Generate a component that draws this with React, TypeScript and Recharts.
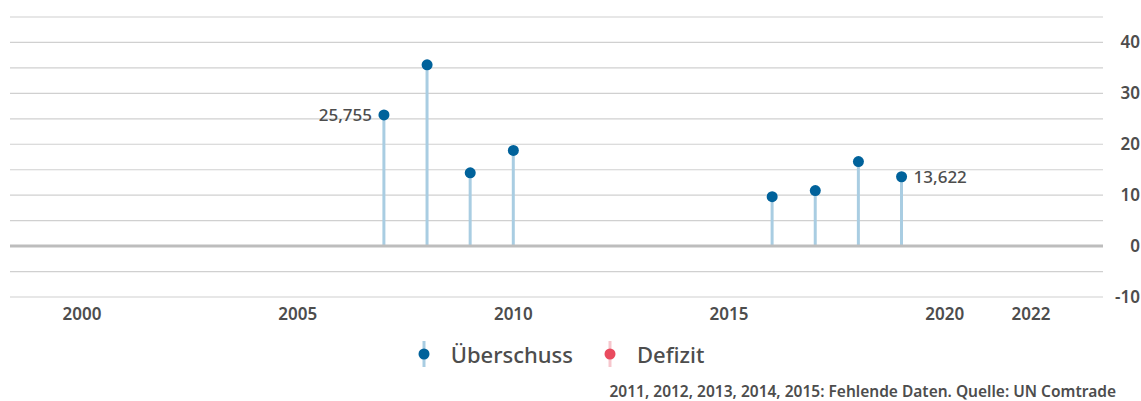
import { ComposedChart, Bar, Line, XAxis, YAxis, CartesianGrid, ReferenceLine, LabelList } from 'recharts'

const years = [2007, 2008, 2009, 2010, 2016, 2017, 2018, 2019]
const surplus = [25.755, 35.6, 14.4, 18.8, 9.7, 10.9, 16.6, 13.622]
const pointLabels = ['25,755', '', '', '', '', '', '', '13,622']
const labelSide = ['left', '', '', '', '', '', '', 'right']
const xTicks = [2000, 2005, 2010, 2015, 2020, 2022]
const yTicks = [-10, -5, 0, 5, 10, 15, 20, 25, 30, 35, 40, 45]
const legendItems = [
    { name: 'Überschuss', dot: '#00629b', stem: '#a9cde2' },
    { name: 'Defizit', dot: '#e94b5f', stem: '#f6c6cd' },
]
const footnote = '2011, 2012, 2013, 2014, 2015: Fehlende Daten. Quelle: UN Comtrade'

const data = years.map((year, i) => ({
    year,
    value: surplus[i],
    label: pointLabels[i],
    side: labelSide[i],
}))

const FONT = '"Noto Sans", sans-serif'
const TEXT = '#4d4d4d'

function YTick(props: any) {
    const { y, payload } = props
    if (payload.value % 10 !== 0) return null
    return (
        <text x={1140} y={y} dy={6} textAnchor="end" fontSize={17} fontWeight={600} fill={TEXT} fontFamily={FONT}>
            {payload.value}
        </text>
    )
}

function PointLabel(props: any) {
    const { x, y, index } = props
    const d = data[index]
    if (!d || !d.label) return null
    const left = d.side === 'left'
    return (
        <text x={left ? x - 12 : x + 12} y={y} dy={6} textAnchor={left ? 'end' : 'start'}
            fontSize={17} fontWeight={500} fill={TEXT} fontFamily={FONT}>
            {d.label}
        </text>
    )
}

export default function App() {
    return (
        <div style={{ position: 'absolute', left: 0, top: 0, width: 1141, height: 401, background: '#fff', fontFamily: FONT }}>
            <ComposedChart width={1141} height={401} data={data}
                margin={{ top: 17, right: 0, bottom: 74, left: 10 }}>
                <CartesianGrid vertical={false} stroke="#d0d0d0" strokeWidth={1.2} />
                <XAxis type="number" dataKey="year" domain={[1998.33, 2023.67]} ticks={xTicks}
                    axisLine={false} tickLine={false} height={30} interval={0}
                    tick={{ fontSize: 17, fontWeight: 600, fill: TEXT, fontFamily: FONT }} tickMargin={5} />
                <YAxis orientation="right" type="number" domain={[-10, 45]} ticks={yTicks} width={38}
                    axisLine={false} tickLine={false} interval={0} tick={<YTick />} />
                <ReferenceLine y={0} stroke="#bdbdbd" strokeWidth={3} />
                <Bar dataKey="value" barSize={3} fill="#a9cde2" isAnimationActive={false} />
                <Line dataKey="value" stroke="none" isAnimationActive={false}
                    dot={{ r: 5.5, fill: '#00629b', stroke: 'none' }} activeDot={false}>
                    <LabelList dataKey="label" content={<PointLabel />} />
                </Line>
            </ComposedChart>
            <div style={{ position: 'absolute', top: 339, left: 0, width: 1141, display: 'flex', justifyContent: 'center', gap: 30, marginLeft: -10 }}>
                {legendItems.map(item => (
                    <div key={item.name} style={{ display: 'flex', alignItems: 'center', gap: 20 }}>
                        <svg width={14} height={30}>
                            <line x1={7} y1={2} x2={7} y2={28} stroke={item.stem} strokeWidth={3} />
                            <circle cx={7} cy={15} r={5.5} fill={item.dot} />
                        </svg>
                        <span style={{ fontSize: 22, fontWeight: 500, color: TEXT }}>{item.name}</span>
                    </div>
                ))}
            </div>
            <div style={{ position: 'absolute', top: 380, right: 25, fontSize: 15.5, fontWeight: 600, color: TEXT, whiteSpace: 'nowrap' }}>
                {footnote}
            </div>
        </div>
    )
}
